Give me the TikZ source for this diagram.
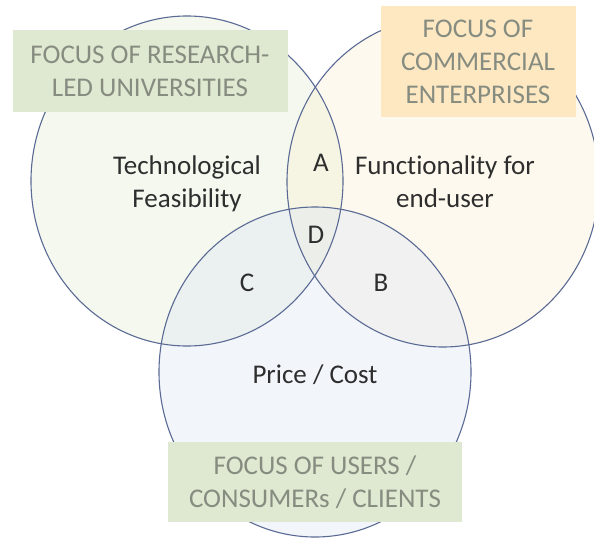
\documentclass[tikz,border=0pt]{standalone}
\usepackage{fontspec}
\setmainfont[Ligatures=NoCommon]{Carlito}
\usetikzlibrary{shapes}
\definecolor{ringline}{HTML}{5A6A94}
\definecolor{techfill}{HTML}{E3ECD6}
\definecolor{funcfill}{HTML}{FBF0D2}
\definecolor{pricefill}{HTML}{DCE5F3}
\definecolor{greenbox}{HTML}{DFE8D0}
\definecolor{orangebox}{HTML}{FDE8C2}
\definecolor{focustext}{HTML}{868C80}
\definecolor{labeltext}{HTML}{2E2E2E}

\begin{document}
\begin{tikzpicture}[x=1pt,y=-1pt,
        venn/.style={ellipse,inner sep=0pt,minimum width=312pt,minimum height=330pt,fill opacity=0.38},
        focus/.style={fill=#1,text=focustext,align=center,inner sep=0pt,font=\fontsize{27}{33}\selectfont},
        txt/.style={text=labeltext,align=center,inner sep=0pt,font=\fontsize{27}{33}\selectfont}]
        \useasboundingbox (0,0) rectangle (594,540);
        \coordinate (l) at (187,181);
        \coordinate (r) at (443,182);
        \coordinate (b) at (315,372);
        \node [venn,fill=techfill] (tech) at (l) {};
        \node [venn,fill=funcfill] (func) at (r) {};
        \node [venn,fill=pricefill] (price) at (b) {};
        \foreach \c in {tech,func,price}
            \draw [ringline,line width=1.1pt] (\c.center) ellipse [x radius=156pt, y radius=165pt];
        \node [txt] (techtext) at (187,184) {Technological\\Feasibility};
        \node [txt] (functext) at (445,182) {Functionality for\\end-user};
        \node [txt] (pricetext) at (315,375) {Price / Cost};
        \node [txt] (A) at (321,163) {A};
        \node [txt] (D) at (316,235) {D};
        \node [txt] (C) at (247,283) {C};
        \node [txt] (B) at (381,283) {B};
        \node [focus=greenbox,minimum width=275pt,minimum height=82pt] (uni) at (150,71) {FOCUS OF RESEARCH-\\LED UNIVERSITIES};
        \node [focus=orangebox,minimum width=195pt,minimum height=111pt] (comm) at (478,62) {FOCUS OF\\COMMERCIAL\\ENTERPRISES};
        \node [focus=greenbox,minimum width=294pt,minimum height=80pt] (users) at (315,482) {FOCUS OF USERS /\\CONSUMERs / CLIENTS};
    \end{tikzpicture}
\end{document}
